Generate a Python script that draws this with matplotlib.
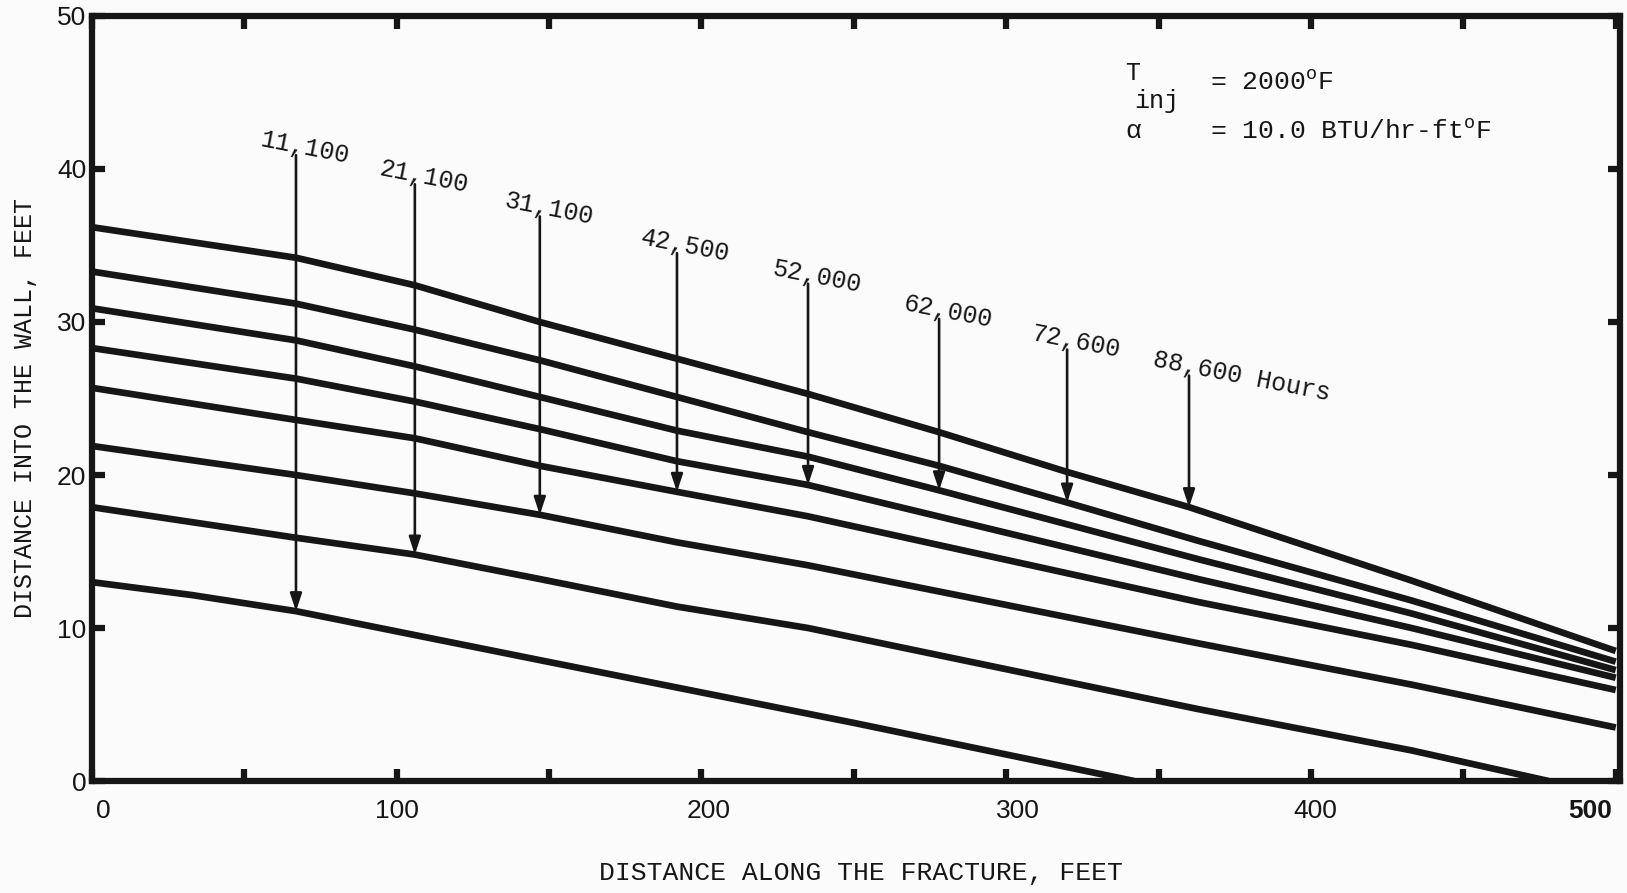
import matplotlib
matplotlib.use('Agg')
from matplotlib import pyplot as plt
from matplotlib import transforms

plt.rcParams['mathtext.fontset'] = 'custom'
plt.rcParams['mathtext.rm'] = 'Liberation Mono'

# times (hours) of each curve, lowest curve first
hours = ["11,100", "21,100", "31,100", "42,500", "52,000", "62,000", "72,600", "88,600 Hours"]

# distance along the fracture (ft) / distance into the wall (ft)
curve_x = [
    [0, 33, 67, 147, 250, 342],
    [0, 67, 106, 147, 192, 235, 363, 433, 478],
    [0, 67, 106, 147, 192, 235, 363, 433, 500],
    [0, 67, 106, 147, 192, 235, 363, 433, 500],
    [0, 67, 106, 147, 192, 235, 363, 433, 500],
    [0, 67, 106, 147, 192, 235, 278, 363, 433, 500],
    [0, 67, 106, 147, 192, 235, 278, 320, 363, 433, 500],
    [0, 67, 106, 147, 192, 235, 278, 320, 360, 433, 500],
]
curve_y = [
    [13.0, 12.15, 11.1, 7.9, 3.8, 0.0],
    [17.9, 15.9, 14.8, 13.2, 11.4, 10.0, 4.7, 2.0, 0.0],
    [21.9, 20.0, 18.8, 17.4, 15.6, 14.1, 9.0, 6.3, 3.5],
    [25.7, 23.6, 22.4, 20.6, 18.9, 17.3, 11.7, 8.9, 5.95],
    [28.3, 26.3, 24.8, 23.0, 20.9, 19.35, 13.2, 10.0, 6.75],
    [30.9, 28.8, 27.1, 25.1, 22.9, 21.2, 19.0, 14.5, 10.95, 7.25],
    [33.3, 31.2, 29.5, 27.5, 25.1, 22.8, 20.6, 18.2, 15.7, 11.8, 7.8],
    [36.2, 34.2, 32.4, 30.0, 27.6, 25.3, 22.8, 20.2, 17.9, 13.1, 8.5],
]

# label arrows: x, top of shaft, tip on the matching curve
arrow_x = [67, 106, 147, 192, 235, 278, 320, 360]
arrow_top = [40.9, 39.0, 36.9, 34.5, 32.5, 30.2, 28.2, 26.5]
arrow_tip = [11.1, 14.8, 17.4, 18.9, 19.35, 19.0, 18.2, 17.9]

x_major = [0, 100, 200, 300, 400, 500]
x_minor = [50, 150, 250, 350, 450]
y_major = [0, 10, 20, 30, 40, 50]
x_label_shift = [12, 0, 7, 12, 4, -26]   # px, typed labels sit a bit off their ticks

ink = '#161616'
paper = '#fbfbfb'
mono = 'Liberation Mono'

fig = plt.figure(figsize=(16.27, 8.93), dpi=100)
fig.patch.set_facecolor(paper)
ax = fig.add_axes([0.0564, 0.1254, 0.9393, 0.8567])
ax.set_facecolor(paper)

for xs, ys in zip(curve_x, curve_y):
    ax.plot(xs, ys, color=ink, lw=4.8, solid_capstyle='butt', solid_joinstyle='round')

for hx, top, tip, lab in zip(arrow_x, arrow_top, arrow_tip, hours):
    ax.annotate('', xy=(hx, tip), xytext=(hx, top),
                arrowprops=dict(arrowstyle='-|>,head_length=1.05,head_width=0.35', color=ink, lw=1.9,
                                shrinkA=0, shrinkB=0))
    # comma of the label sits on top of the shaft
    ax.annotate(lab, xy=(hx, top), xytext=(-26.5, 6.5), textcoords='offset points',
                fontsize=18, family=mono, rotation=-11, rotation_mode='anchor',
                ha='left', va='baseline', color=ink)

ax.text(339, 45.8, 'T', fontsize=18, family=mono, color=ink, va='baseline')
ax.text(342, 44.0, 'inj', fontsize=18, family=mono, color=ink, va='baseline')
ax.text(366.8, 45.2, r'= 2000$^{\mathrm{o}}$F', fontsize=19, family=mono, color=ink, va='baseline')
ax.text(339, 42.0, 'α', fontsize=19, family=mono, color=ink, va='baseline')
ax.text(366.8, 42.0, r'= 10.0 BTU/hr-ft$^{\mathrm{o}}$F', fontsize=19, family=mono, color=ink, va='baseline')

ax.set_xlim(0, 501.4)
ax.set_ylim(0, 50)
ax.set_xticks(x_major)
ax.set_xticklabels([str(v) for v in x_major])
ax.set_xticks(x_minor, minor=True)
ax.set_yticks(y_major)
ax.set_yticklabels([str(v) for v in y_major])
ax.tick_params(which='both', direction='in', length=9, width=4.5, top=True, right=True,
               colors=ink)
ax.tick_params(axis='x', labelsize=19, pad=13)
ax.tick_params(axis='y', labelsize=19, pad=4)
for lab in ax.get_xticklabels() + ax.get_yticklabels():
    lab.set_family('Liberation Sans')
for lab, dx in zip(ax.get_xticklabels(), x_label_shift):
    lab.set_transform(lab.get_transform() + transforms.ScaledTranslation(dx / 100, 0, fig.dpi_scale_trans))
ax.get_xticklabels()[-1].set_fontweight('bold')
for s in ax.spines.values():
    s.set_linewidth(4.5)
    s.set_color(ink)

ax.set_xlabel('DISTANCE ALONG THE FRACTURE, FEET', fontsize=19, family=mono, color=ink)
ax.set_ylabel('DISTANCE INTO THE WALL, FEET', fontsize=18, family=mono, color=ink)
ax.xaxis.set_label_coords(0.503, -0.105)
ax.yaxis.set_label_coords(-0.036, 0.487)

fig.savefig('out.png', dpi=100, facecolor=fig.get_facecolor())
